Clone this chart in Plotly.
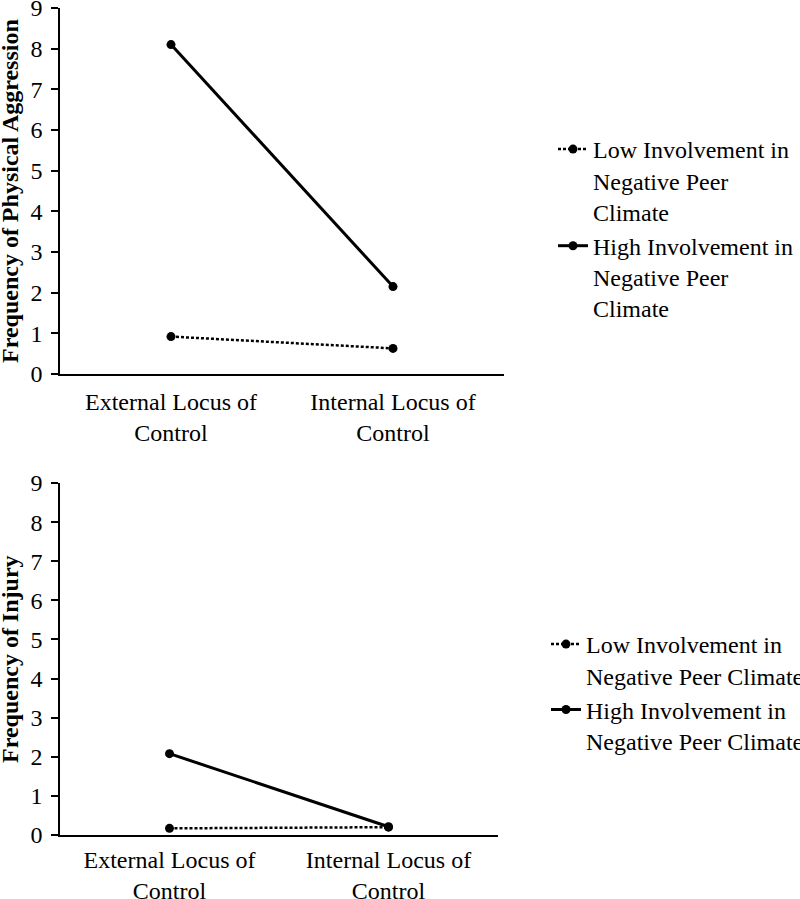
import plotly.graph_objects as go

categories = ["External Locus of<br>Control", "Internal Locus of<br>Control"]
y_ticks = list(range(0, 10))

series_names = ["Low Involvement in<br>Negative Peer<br>Climate", "High Involvement in<br>Negative Peer<br>Climate"]
series_names_b = ["Low Involvement in<br>Negative Peer Climate", "High Involvement in<br>Negative Peer Climate"]
y_titles = ["<b>Frequency of Physical Aggression</b>", "<b>Frequency of Injury</b>"]

aggr_low = [0.92, 0.63]
aggr_high = [8.1, 2.15]
inj_low = [0.17, 0.2]
inj_high = [2.08, 0.21]

FONT = "Liberation Serif"
W, H = 800, 899

fig = go.Figure()

low_style = dict(color="black", width=2.5, dash="3px,2px")
high_style = dict(color="black", width=3)
mk = dict(size=9, color="black")

fig.add_trace(go.Scatter(x=categories, y=aggr_low, mode="lines+markers", name=series_names[0],
                         line=low_style, marker=mk, xaxis="x", yaxis="y", legend="legend"))
fig.add_trace(go.Scatter(x=categories, y=aggr_high, mode="lines+markers", name=series_names[1],
                         line=high_style, marker=mk, xaxis="x", yaxis="y", legend="legend"))
fig.add_trace(go.Scatter(x=categories, y=inj_low, mode="lines+markers", name=series_names_b[0],
                         line=low_style, marker=mk, xaxis="x2", yaxis="y2", legend="legend2"))
fig.add_trace(go.Scatter(x=categories, y=inj_high, mode="lines+markers", name=series_names_b[1],
                         line=high_style, marker=mk, xaxis="x2", yaxis="y2", legend="legend2"))

def xa(domain, anchor, standoff):
    return dict(domain=domain, anchor=anchor, type="category", range=[-0.5, 1.5],
                showline=True, linecolor="black", linewidth=1.5, ticks="", showgrid=False,
                zeroline=False, tickfont=dict(family=FONT, size=24, color="black"),
                ticklabelstandoff=standoff, automargin=False, ticklabeloverflow="allow")

def ya(domain, anchor):
    return dict(domain=domain, anchor=anchor, range=[0, 9], tickmode="array", tickvals=y_ticks,
                showline=True, linecolor="black", linewidth=1.5, ticks="outside", ticklen=7,
                tickcolor="black", tickwidth=1.5, showgrid=False, zeroline=False,
                tickfont=dict(family=FONT, size=24, color="black"), ticklabelstandoff=4,
                automargin=False, ticklabeloverflow="allow")

top_dom = [1 - 374 / H, 1 - 8 / H]
bot_dom = [1 - 835 / H, 1 - 483 / H]

fig.update_layout(
    template="none",
    width=W, height=H,
    margin=dict(l=0, r=0, t=0, b=0, autoexpand=False),
    paper_bgcolor="white", plot_bgcolor="white",
    font=dict(family=FONT, color="black"),
    xaxis=xa([60 / W, 504 / W], "y", 5),
    yaxis=ya(top_dom, "x"),
    xaxis2=xa([60 / W, 498 / W], "y2", 2),
    yaxis2=ya(bot_dom, "x2"),
    legend=dict(x=(593 - 40) / W, xanchor="left", y=1 - 127 / H, yanchor="top",
                font=dict(family=FONT, size=24, color="black"), valign="top",
                bgcolor="rgba(0,0,0,0)", tracegroupgap=0),
    legend2=dict(x=(586 - 40) / W, xanchor="left", y=1 - 622 / H, yanchor="top",
                 font=dict(family=FONT, size=24, color="black"), valign="top",
                 bgcolor="rgba(0,0,0,0)", tracegroupgap=0),
    showlegend=True,
)

for title, dom in zip(y_titles, [top_dom, bot_dom]):
    fig.add_annotation(text=title, xref="paper", yref="paper", x=10 / W, y=(dom[0] + dom[1]) / 2,
                       xanchor="center", yanchor="middle", textangle=-90, showarrow=False,
                       font=dict(family=FONT, size=24, color="black"))

fig.write_html("out.html", config={"displayModeBar": False},
               post_script="document.body.style.margin='0';document.body.style.overflow='hidden';")
